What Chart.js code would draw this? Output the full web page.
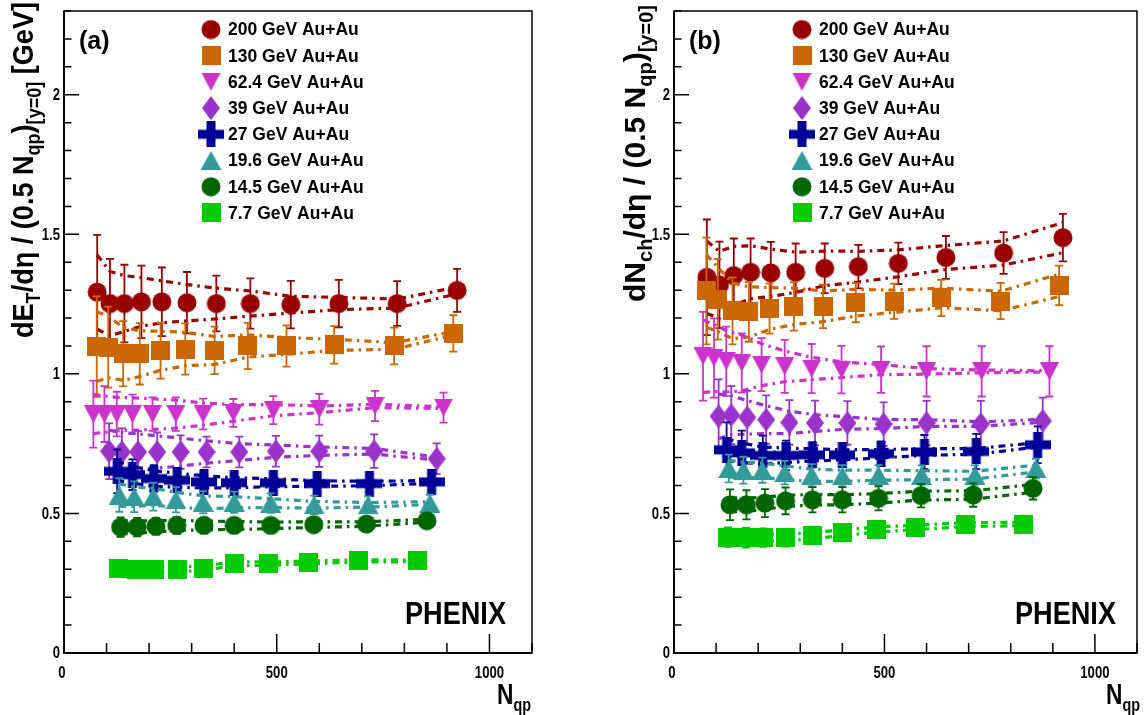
<!DOCTYPE html>
<html>
<head>
<meta charset="utf-8">
<script src="https://cdn.jsdelivr.net/npm/chart.js@4.4.1/dist/chart.umd.min.js"></script>
<style>
  html, body { margin: 0; padding: 0; background: #fff; }
  #wrap { position: relative; width: 1148px; height: 715px; }
  canvas { position: absolute; top: 0; width: 574px; height: 715px; }
  #cA { left: 0; }
  #cB { left: 574px; }
</style>
</head>
<body>
<div id="wrap">
  <canvas id="cA" width="574" height="715"></canvas>
  <canvas id="cB" width="574" height="715"></canvas>
</div>
<script>
const FONT = '"Liberation Sans", Arial, Helvetica, sans-serif';

// Legend / series
const energies = ["200", "130", "62.4", "39", "27", "19.6", "14.5", "7.7"];
const colors = ["#990000", "#cc6600", "#cc33cc", "#9933cc", "#000099", "#339999", "#006600", "#00cc00"];
const shapes = ["circle", "square", "triDown", "diamond", "cross", "triUp", "circle", "square"];

// Axis ticks
const xTicks = [0, 500, 1000];
const yTicks = [0, 0.5, 1, 1.5, 2];
const yTickLabels = ["0", "0.5", "1", "1.5", "2"];

// N_qp per energy
const nqp200 = [78, 108, 142, 182, 230, 289, 358, 438, 533, 646, 783, 924];
const nqp130 = [77, 104, 139, 178, 227, 285, 354, 432, 523, 635, 776, 915];
const nqp62 = [69, 95, 124, 161, 208, 263, 327, 398, 492, 600, 731, 892];
const nqp39 = [106, 136, 174, 219, 274, 335, 412, 498, 600, 729, 876];
const nqp27 = [125, 161, 211, 266, 329, 400, 492, 595, 718, 864];
const nqp19 = [130, 165, 210, 263, 327, 400, 486, 588, 715, 860];
const nqp14 = [133, 172, 216, 265, 329, 400, 486, 587, 711, 853];
const nqp7 = [128, 171, 212, 266, 329, 400, 480, 574, 692, 830];

// (a) dE_T/deta / (0.5 N_qp)
const etA200 = [1.293, 1.252, 1.252, 1.258, 1.258, 1.255, 1.252, 1.252, 1.248, 1.252, 1.252, 1.299];
const errA200 = [0.205, 0.16, 0.139, 0.13, 0.123, 0.11, 0.1, 0.09, 0.085, 0.085, 0.08, 0.077];
const sysA200 = [0.133, 0.115, 0.1, 0.087, 0.075, 0.065, 0.055, 0.045, 0.03, 0.022, 0.016, 0.012];
const etA130 = [1.098, 1.096, 1.072, 1.072, 1.083, 1.089, 1.084, 1.1, 1.1, 1.104, 1.1, 1.145];
const errA130 = [0.18, 0.145, 0.117, 0.11, 0.1, 0.092, 0.085, 0.083, 0.074, 0.067, 0.066, 0.065];
const sysA130 = [0.125, 0.11, 0.095, 0.082, 0.07, 0.06, 0.05, 0.04, 0.03, 0.02, 0.012, 0.006];
const etA62 = [0.856, 0.856, 0.856, 0.856, 0.856, 0.856, 0.856, 0.86, 0.87, 0.873, 0.885, 0.879];
const errA62 = [0.12, 0.1, 0.08, 0.07, 0.06, 0.06, 0.055, 0.05, 0.05, 0.055, 0.054, 0.054];
const sysA62 = [0.07, 0.065, 0.06, 0.058, 0.055, 0.05, 0.04, 0.03, 0.02, 0.012, 0.006, 0.003];
const etA39 = [0.723, 0.72, 0.72, 0.72, 0.72, 0.72, 0.72, 0.723, 0.723, 0.723, 0.696];
const errA39 = [0.1, 0.085, 0.075, 0.07, 0.06, 0.055, 0.055, 0.055, 0.056, 0.06, 0.055];
const sysA39 = [0.075, 0.07, 0.065, 0.058, 0.05, 0.04, 0.03, 0.022, 0.015, 0.01, 0.005];
const etA27 = [0.651, 0.639, 0.625, 0.619, 0.613, 0.61, 0.61, 0.607, 0.607, 0.613];
const errA27 = [0.078, 0.055, 0.048, 0.04, 0.035, 0.032, 0.03, 0.03, 0.03, 0.03];
const sysA27 = [0.035, 0.03, 0.028, 0.025, 0.022, 0.018, 0.014, 0.01, 0.008, 0.005];
const etA19 = [0.566, 0.56, 0.56, 0.549, 0.54, 0.54, 0.537, 0.531, 0.531, 0.537];
const errA19 = [0.06, 0.055, 0.05, 0.045, 0.04, 0.038, 0.035, 0.033, 0.03, 0.03];
const sysA19 = [0.04, 0.035, 0.03, 0.027, 0.023, 0.02, 0.016, 0.012, 0.008, 0.005];
const etA14 = [0.451, 0.451, 0.454, 0.457, 0.457, 0.457, 0.457, 0.46, 0.462, 0.474];
const errA14 = [0.035, 0.033, 0.03, 0.03, 0.028, 0.027, 0.026, 0.025, 0.024, 0.024];
const sysA14 = [0.025, 0.022, 0.02, 0.018, 0.016, 0.014, 0.012, 0.01, 0.008, 0.005];
const etA7 = [0.304, 0.3, 0.3, 0.3, 0.304, 0.32, 0.32, 0.324, 0.33, 0.33];
const errA7 = [0.02, 0.02, 0.018, 0.018, 0.016, 0.016, 0.015, 0.015, 0.015, 0.015];
const sysA7 = [0.012, 0.011, 0.01, 0.009, 0.008, 0.007, 0.006, 0.005, 0.004, 0.003];

// (b) dN_ch/deta / (0.5 N_qp)
const nchB200 = [1.346, 1.319, 1.352, 1.364, 1.362, 1.364, 1.378, 1.384, 1.396, 1.417, 1.433, 1.488];
const errB200 = [0.207, 0.155, 0.133, 0.121, 0.111, 0.103, 0.089, 0.078, 0.074, 0.077, 0.075, 0.085];
const sysB200 = [0.13, 0.12, 0.105, 0.095, 0.085, 0.072, 0.062, 0.055, 0.048, 0.043, 0.043, 0.054];
const nchB130 = [1.297, 1.267, 1.226, 1.222, 1.234, 1.242, 1.242, 1.255, 1.26, 1.272, 1.261, 1.317];
const errB130 = [0.191, 0.144, 0.12, 0.107, 0.09, 0.087, 0.078, 0.07, 0.063, 0.065, 0.065, 0.071];
const sysB130 = [0.13, 0.115, 0.1, 0.09, 0.075, 0.065, 0.055, 0.048, 0.04, 0.035, 0.035, 0.04];
const nchB62 = [1.063, 1.057, 1.045, 1.039, 1.033, 1.027, 1.019, 1.015, 1.015, 1.009, 1.009, 1.009];
const errB62 = [0.159, 0.142, 0.124, 0.106, 0.095, 0.095, 0.088, 0.085, 0.083, 0.09, 0.09, 0.09];
const sysB62 = [0.13, 0.12, 0.11, 0.1, 0.075, 0.055, 0.04, 0.028, 0.018, 0.01, 0.005, 0.002];
const nchB39 = [0.848, 0.852, 0.844, 0.836, 0.826, 0.824, 0.824, 0.82, 0.824, 0.82, 0.832];
const errB39 = [0.132, 0.104, 0.095, 0.087, 0.08, 0.08, 0.078, 0.078, 0.079, 0.083, 0.083];
const sysB39 = [0.08, 0.07, 0.06, 0.05, 0.04, 0.03, 0.022, 0.016, 0.012, 0.008, 0.005];
const nchB27 = [0.728, 0.717, 0.708, 0.708, 0.71, 0.71, 0.714, 0.72, 0.722, 0.746];
const errB27 = [0.098, 0.08, 0.071, 0.053, 0.045, 0.043, 0.044, 0.061, 0.063, 0.066];
const sysB27 = [0.04, 0.035, 0.03, 0.026, 0.022, 0.018, 0.015, 0.012, 0.01, 0.008];
const nchB19 = [0.661, 0.655, 0.655, 0.646, 0.637, 0.635, 0.637, 0.637, 0.637, 0.661];
const errB19 = [0.05, 0.048, 0.045, 0.042, 0.04, 0.038, 0.036, 0.035, 0.035, 0.035];
const sysB19 = [0.03, 0.028, 0.026, 0.024, 0.022, 0.02, 0.018, 0.016, 0.014, 0.012];
const nchB14 = [0.531, 0.531, 0.537, 0.545, 0.549, 0.549, 0.554, 0.564, 0.566, 0.59];
const errB14 = [0.055, 0.052, 0.05, 0.048, 0.045, 0.045, 0.043, 0.042, 0.042, 0.04];
const sysB14 = [0.025, 0.024, 0.022, 0.02, 0.019, 0.018, 0.017, 0.016, 0.015, 0.014];
const nchB7 = [0.415, 0.413, 0.413, 0.413, 0.421, 0.43, 0.442, 0.45, 0.46, 0.462];
const errB7 = [0.035, 0.035, 0.033, 0.032, 0.03, 0.03, 0.03, 0.03, 0.03, 0.03];
const sysB7 = [0.015, 0.014, 0.013, 0.012, 0.011, 0.01, 0.009, 0.008, 0.007, 0.006];

// Markers (ROOT-like, drawn to small canvases)
function makeMarker(shape, color) {
  const sizes = { circle: [20, 20], square: [19, 19], triDown: [19, 18], triUp: [21, 19], diamond: [18, 24], cross: [26, 26] };
  const [w, h] = sizes[shape];
  const c = document.createElement("canvas");
  c.width = w;
  c.height = h;
  const g = c.getContext("2d");
  g.fillStyle = color;
  g.beginPath();
  if (shape === "circle") g.arc(w / 2, h / 2, w / 2 - 0.5, 0, Math.PI * 2);
  else if (shape === "square") g.rect(0, 0, w, h);
  else if (shape === "triDown") { g.moveTo(0, 0); g.lineTo(w, 0); g.lineTo(w / 2, h); g.closePath(); }
  else if (shape === "triUp") { g.moveTo(w / 2, 0); g.lineTo(w, h); g.lineTo(0, h); g.closePath(); }
  else if (shape === "diamond") { g.moveTo(w / 2, 0); g.lineTo(w, h / 2); g.lineTo(w / 2, h); g.lineTo(0, h / 2); g.closePath(); }
  else if (shape === "cross") { const t = 9, o = (w - t) / 2; g.rect(o, 0, t, h); g.rect(0, o, w, t); }
  g.fill();
  return c;
}
const markers = shapes.map((s, i) => makeMarker(s, colors[i]));

const nqpAll = [nqp200, nqp130, nqp62, nqp39, nqp27, nqp19, nqp14, nqp7];
const seriesA = [
  [etA200, errA200, sysA200], [etA130, errA130, sysA130], [etA62, errA62, sysA62], [etA39, errA39, sysA39],
  [etA27, errA27, sysA27], [etA19, errA19, sysA19], [etA14, errA14, sysA14], [etA7, errA7, sysA7],
];
const seriesB = [
  [nchB200, errB200, sysB200], [nchB130, errB130, sysB130], [nchB62, errB62, sysB62], [nchB39, errB39, sysB39],
  [nchB27, errB27, sysB27], [nchB19, errB19, sysB19], [nchB14, errB14, sysB14], [nchB7, errB7, sysB7],
];

function buildDatasets(series) {
  const out = [];
  series.forEach(([vals, errs, sys], k) => {
    const xs = nqpAll[k];
    const base = 100 - 3 * k;
    [1, -1].forEach((sgn) => {
      out.push({
        type: "scatter",
        showLine: true,
        data: xs.map((x, i) => ({ x, y: vals[i] + sgn * sys[i] })),
        borderColor: colors[k],
        borderWidth: 3.2,
        borderDash: [7, 5, 2.5, 5],
        pointRadius: 0,
        fill: false,
        order: base + 1,
      });
    });
    out.push({
      type: "scatter",
      showLine: false,
      data: xs.map((x, i) => ({ x, y: vals[i] })),
      errs,
      color: colors[k],
      pointStyle: markers[k],
      pointRadius: 10,
      order: base,
    });
  });
  return out;
}

// Error bars, drawn just under each dataset's markers
const errorBars = {
  id: "errorBars",
  beforeDatasetDraw(chart, args) {
    const ds = chart.data.datasets[args.index];
    if (!ds.errs) return;
    const { ctx, scales: { x, y } } = chart;
    ctx.save();
    ctx.strokeStyle = ds.color;
    ctx.lineWidth = 1.8;
    ds.data.forEach((p, i) => {
      const px = x.getPixelForValue(p.x);
      const yt = y.getPixelForValue(p.y + ds.errs[i]);
      const yb = y.getPixelForValue(p.y - ds.errs[i]);
      ctx.beginPath();
      ctx.moveTo(px, yt); ctx.lineTo(px, yb);
      ctx.moveTo(px - 4, yt); ctx.lineTo(px + 4, yt);
      ctx.moveTo(px - 4, yb); ctx.lineTo(px + 4, yb);
      ctx.stroke();
    });
    ctx.restore();
  },
};

function richText(ctx, parts, x, y, rot, targetLen) {
  ctx.save();
  ctx.translate(x, y);
  ctx.rotate(rot);
  let total = 0;
  parts.forEach((p) => { ctx.font = `bold ${p.s}px ${FONT}`; total += ctx.measureText(p.t).width; });
  const sx = targetLen ? targetLen / total : 1;
  ctx.scale(sx, 1);
  ctx.textAlign = "left";
  ctx.textBaseline = "alphabetic";
  let cx = 0;
  parts.forEach((p) => {
    ctx.font = `bold ${p.s}px ${FONT}`;
    ctx.fillText(p.t, cx, p.dy || 0);
    cx += ctx.measureText(p.t).width;
  });
  ctx.restore();
}

// Frame, ticks, labels, legend, titles
const deco = {
  id: "deco",
  afterDraw(chart, args, o) {
    const { ctx, chartArea: a, scales: { x, y } } = chart;
    ctx.save();
    ctx.fillStyle = "#000";
    ctx.strokeStyle = "#000";
    ctx.lineWidth = 1.5;
    ctx.strokeRect(a.left, a.top, a.right - a.left, a.bottom - a.top);
    ctx.lineWidth = 2;
    ctx.beginPath();
    ctx.moveTo(a.left, a.top); ctx.lineTo(a.left, a.bottom); ctx.lineTo(a.right, a.bottom);
    ctx.stroke();

    ctx.lineWidth = 1.5;
    ctx.beginPath();
    for (let i = 0; i <= 23; i++) {
      const py = y.getPixelForValue(i / 10);
      ctx.moveTo(a.left, py); ctx.lineTo(a.left + (i % 5 === 0 ? 15 : 7.5), py);
    }
    for (let i = 0; i <= 11; i++) {
      const px = x.getPixelForValue(i * 100);
      ctx.moveTo(px, a.bottom); ctx.lineTo(px, a.bottom - (i % 5 === 0 ? 19 : 10));
    }
    ctx.stroke();

    ctx.font = `bold 16px ${FONT}`;
    yTicks.forEach((v, i) => {
      ctx.save();
      ctx.translate(a.left - 4, y.getPixelForValue(v) + 1);
      ctx.scale(0.82, 1);
      ctx.textAlign = "right";
      ctx.textBaseline = "middle";
      ctx.fillText(yTickLabels[i], 0, 0);
      ctx.restore();
    });
    xTicks.forEach((v) => {
      ctx.save();
      ctx.translate(x.getPixelForValue(v) - (v === 0 ? 2 : 0), a.bottom + 25);
      ctx.scale(0.82, 1);
      ctx.textAlign = "center";
      ctx.fillText(String(v), 0, 0);
      ctx.restore();
    });

    // y title
    richText(ctx, o.yTitle, o.yTitleX, o.yTitleY, -Math.PI / 2, o.yTitleLen);
    // x title
    richText(ctx, [{ t: "N", s: 30 }, { t: "qp", s: 19, dy: 7 }], o.xTitleX, 704, 0, 34);

    // panel label, PHENIX
    ctx.font = `bold 25px ${FONT}`;
    ctx.textAlign = "left";
    ctx.fillText(o.label, o.labelX, 49);
    richText(ctx, [{ t: "PHENIX", s: 32 }], o.phenixX, 624, 0, 101);

    // legend
    ctx.font = `bold 17.5px ${FONT}`;
    ctx.textBaseline = "middle";
    energies.forEach((e, k) => {
      const ry = 29.5 + 26.2 * k;
      const m = markers[k];
      ctx.drawImage(m, o.legX - m.width / 2, ry - m.height / 2);
      ctx.fillText(`${e} GeV Au+Au`, o.legX + 17, ry + 1);
    });
    ctx.restore();
  },
};

function makeChart(id, series, padLeft, padRight, decoOpts) {
  return new Chart(document.getElementById(id), {
    type: "scatter",
    data: { datasets: buildDatasets(series) },
    plugins: [errorBars, deco],
    options: {
      responsive: false,
      animation: false,
      devicePixelRatio: 1,
      events: [],
      layout: { padding: { left: padLeft, right: padRight, top: 4, bottom: 62 } },
      scales: {
        x: { type: "linear", min: 0, max: 1100, display: false },
        y: { type: "linear", min: 0, max: 2.3, display: false },
      },
      plugins: { legend: { display: false }, tooltip: { enabled: false }, deco: decoOpts },
    },
  });
}

makeChart("cA", seriesA, 64, 42, {
  label: "(a)", labelX: 79, phenixX: 405, xTitleX: 497, legX: 211,
  yTitleX: 33, yTitleY: 338, yTitleLen: 336,
  yTitle: [
    { t: "dE", s: 30 }, { t: "T", s: 20, dy: 7 }, { t: "/dη / (0.5 N", s: 30 },
    { t: "qp", s: 20, dy: 7 }, { t: ")", s: 30 }, { t: "[y=0]", s: 20, dy: 8 }, { t: " [GeV]", s: 30 },
  ],
});
makeChart("cB", seriesB, 100, 7, {
  label: "(b)", labelX: 115, phenixX: 441, xTitleX: 532, legX: 228,
  yTitleX: 71, yTitleY: 302, yTitleLen: 297,
  yTitle: [
    { t: "dN", s: 30 }, { t: "ch", s: 20, dy: 7 }, { t: "/dη / (0.5 N", s: 30 },
    { t: "qp", s: 20, dy: 7 }, { t: ")", s: 30 }, { t: "[y=0]", s: 20, dy: 8 },
  ],
});
</script>
</body>
</html>
